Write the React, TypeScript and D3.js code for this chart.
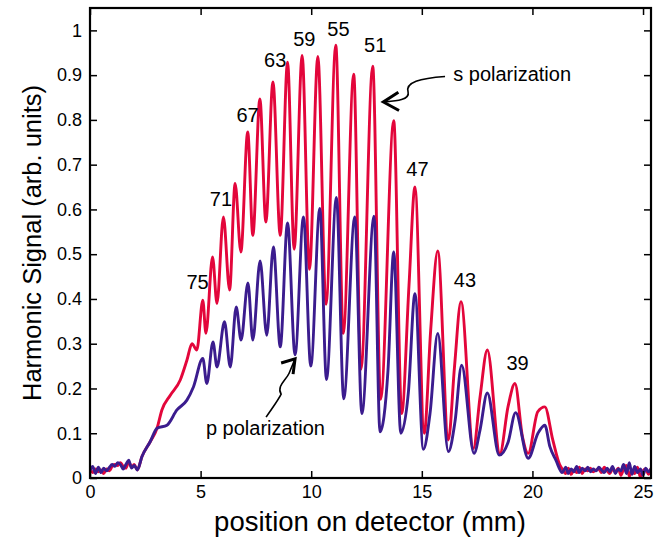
import { useEffect, useRef } from 'react'
import * as d3 from 'd3'

const W = 660, H = 537, M = { top: 8, right: 9, bottom: 59, left: 90 }
const FONT = 'Liberation Sans, Arial, Helvetica, sans-serif'

// s polarization trace: [position (mm), signal]
const sPolarization: [number, number][] = [
  [0, 0.022], [0.12, 0.012], [0.25, 0.02], [0.38, 0.014], [0.5, 0.018], [0.62, 0.01], [0.75, 0.02],
  [0.88, 0.016], [1.0, 0.026], [1.12, 0.03], [1.25, 0.028], [1.38, 0.034], [1.5, 0.026], [1.62, 0.022],
  [1.75, 0.036], [1.88, 0.024], [2.0, 0.03], [2.14, 0.018], [2.35, 0.048], [2.72, 0.081], [3.03, 0.111],
  [3.25, 0.152], [3.63, 0.185], [4.08, 0.219], [4.38, 0.263], [4.61, 0.3], [4.83, 0.286],
  [5.1, 0.397], [5.24, 0.323], [5.54, 0.494], [5.74, 0.39], [6.03, 0.583], [6.31, 0.42],
  [6.56, 0.658], [6.82, 0.505], [7.13, 0.773], [7.36, 0.542], [7.68, 0.847], [7.95, 0.572],
  [8.27, 0.885], [8.6, 0.542], [8.93, 0.929], [9.23, 0.511], [9.59, 0.944], [9.92, 0.466],
  [10.3, 0.942], [10.67, 0.388], [11.11, 0.967], [11.45, 0.323], [11.92, 0.902], [12.25, 0.243],
  [12.78, 0.92], [13.14, 0.176], [13.73, 0.798], [14.09, 0.144], [14.42, 0.43], [14.69, 0.65],
  [15.11, 0.1], [15.4, 0.33], [15.72, 0.507], [16.2, 0.085], [16.48, 0.25], [16.77, 0.394],
  [17.33, 0.066], [17.63, 0.18], [17.96, 0.286], [18.53, 0.055], [18.9, 0.16], [19.21, 0.211],
  [19.55, 0.092], [19.81, 0.055], [20.24, 0.148], [20.56, 0.159], [20.92, 0.085], [21.23, 0.03],
  [21.35, 0.02], [21.5, 0.01], [21.62, 0.022], [21.75, 0.008], [21.88, 0.018], [22.0, 0.012],
  [22.12, 0.024], [22.25, 0.01], [22.38, 0.02], [22.5, 0.016], [22.62, 0.022], [22.75, 0.014],
  [22.88, 0.018], [23.0, 0.02], [23.12, 0.012], [23.25, 0.024], [23.38, 0.016], [23.5, 0.01],
  [23.62, 0.02], [23.75, 0.014], [23.88, 0.022], [24.0, 0.006], [24.12, 0.02], [24.25, 0.028],
  [24.38, 0.004], [24.5, 0.018], [24.62, 0.01], [24.75, 0.024], [24.88, 0.002], [25.0, 0.016],
  [25.12, 0.02], [25.25, 0.008], [25.36, 0.022],
]

// p polarization trace
const pPolarization: [number, number][] = [
  [0, 0.016], [0.12, 0.026], [0.25, 0.01], [0.38, 0.024], [0.5, 0.012], [0.62, 0.022], [0.75, 0.016],
  [0.88, 0.024], [1.0, 0.03], [1.12, 0.026], [1.25, 0.034], [1.38, 0.03], [1.5, 0.02], [1.62, 0.03],
  [1.75, 0.04], [1.88, 0.022], [2.0, 0.028], [2.14, 0.018], [2.35, 0.048], [2.72, 0.081], [3.03, 0.111],
  [3.48, 0.118], [3.93, 0.152], [4.38, 0.174], [4.68, 0.204], [5.1, 0.267], [5.28, 0.211],
  [5.56, 0.304], [5.74, 0.248], [6.08, 0.349], [6.34, 0.248], [6.61, 0.382], [6.83, 0.308],
  [7.14, 0.436], [7.36, 0.308], [7.69, 0.485], [7.99, 0.319], [8.29, 0.516], [8.6, 0.293],
  [8.93, 0.57], [9.27, 0.275], [9.65, 0.583], [9.98, 0.25], [10.39, 0.602], [10.69, 0.22],
  [11.14, 0.627], [11.47, 0.177], [11.97, 0.583], [12.29, 0.144], [12.84, 0.585], [13.11, 0.103],
  [13.47, 0.24], [13.73, 0.505], [14.05, 0.1], [14.39, 0.19], [14.69, 0.412], [15.07, 0.064],
  [15.37, 0.144], [15.72, 0.323], [16.2, 0.059], [16.5, 0.126], [16.8, 0.252], [17.36, 0.055],
  [17.63, 0.107], [17.96, 0.19], [18.5, 0.051], [18.9, 0.08], [19.24, 0.146], [19.81, 0.044],
  [20.25, 0.1], [20.56, 0.118], [20.79, 0.07], [21.06, 0.04], [21.35, 0.012], [21.5, 0.024],
  [21.62, 0.01], [21.75, 0.02], [21.88, 0.014], [22.0, 0.026], [22.12, 0.012], [22.25, 0.022],
  [22.38, 0.016], [22.5, 0.024], [22.62, 0.014], [22.75, 0.02], [22.88, 0.016], [23.0, 0.024],
  [23.12, 0.018], [23.25, 0.012], [23.38, 0.022], [23.5, 0.014], [23.62, 0.026], [23.75, 0.01],
  [23.88, 0.02], [24.0, 0.016], [24.12, 0.03], [24.25, 0.01], [24.38, 0.034], [24.5, 0.008],
  [24.62, 0.026], [24.75, 0.012], [24.88, 0.02], [25.0, 0.006], [25.12, 0.022], [25.25, 0.014],
  [25.36, 0.02],
]

const xTicks = [0, 5, 10, 15, 20, 25]
const yTicks = [0, 0.1, 0.2, 0.3, 0.4, 0.5, 0.6, 0.7, 0.8, 0.9, 1]

// harmonic orders labelled above the peaks: [x (mm), y, order]
const harmonicLabels: [number, number, string][] = [
  [4.86, 0.438, '75'], [5.92, 0.623, '71'], [7.12, 0.81, '67'], [8.37, 0.933, '63'],
  [9.69, 0.981, '59'], [11.23, 1.004, '55'], [12.89, 0.967, '51'], [14.8, 0.691, '47'],
  [16.95, 0.442, '43'], [19.33, 0.257, '39'],
]

export default function App() {
  const svgRef = useRef<SVGSVGElement>(null)

  useEffect(() => {
    const svg = d3.select(svgRef.current!)
    svg.selectAll('*').remove()

    const x = d3.scaleLinear().domain([0, 25.36]).range([M.left, W - M.right])
    const y = d3.scaleLinear().domain([0, 1.05]).range([H - M.bottom, M.top])

    svg.append('clipPath').attr('id', 'plot-clip')
      .append('rect').attr('x', M.left).attr('y', M.top)
      .attr('width', W - M.left - M.right).attr('height', H - M.top - M.bottom)

    const line = d3.line<[number, number]>()
      .x(d => x(d[0])).y(d => y(d[1])).curve(d3.curveMonotoneX)

    const traces = svg.append('g').attr('clip-path', 'url(#plot-clip)')
    traces.append('path').datum(sPolarization)
      .attr('fill', 'none').attr('stroke', '#e3063b').attr('stroke-width', 2.9)
      .attr('stroke-linejoin', 'round').attr('d', line)
    traces.append('path').datum(pPolarization)
      .attr('fill', 'none').attr('stroke', '#3b1c8e').attr('stroke-width', 2.9)
      .attr('stroke-linejoin', 'round').attr('d', line)

    const styleAxis = (ax: d3.Selection<SVGGElement, unknown, null, undefined>) => {
      ax.select('.domain').remove()
      ax.selectAll('.tick line').attr('stroke', '#000').attr('stroke-width', 1.5)
      ax.selectAll<SVGTextElement, unknown>('.tick text')
        .attr('font-size', 18).attr('font-family', FONT).attr('fill', '#000')
    }

    const yb = y(0), yt = y(1.05)
    svg.append('g').attr('transform', `translate(0,${yb})`)
      .call(d3.axisBottom(x).tickValues(xTicks).tickSize(-7).tickPadding(7).tickFormat(d3.format('d')))
      .call(styleAxis)
    svg.append('g').attr('transform', `translate(0,${yt})`)
      .call(d3.axisTop(x).tickValues(xTicks).tickSize(-7).tickFormat(() => ''))
      .call(styleAxis)
    svg.append('g').attr('transform', `translate(${M.left},0)`)
      .call(d3.axisLeft(y).tickValues(yTicks).tickSize(-7).tickPadding(8).tickFormat(d => d3.format('')(+d)))
      .call(styleAxis)
    svg.append('g').attr('transform', `translate(${W - M.right},0)`)
      .call(d3.axisRight(y).tickValues(yTicks).tickSize(-7).tickFormat(() => ''))
      .call(styleAxis)

    svg.append('rect')
      .attr('x', M.left).attr('y', M.top)
      .attr('width', W - M.left - M.right).attr('height', H - M.top - M.bottom)
      .attr('fill', 'none').attr('stroke', '#000').attr('stroke-width', 2.2)

    // harmonic orders
    svg.append('g').selectAll('text').data(harmonicLabels).join('text')
      .attr('x', d => x(d[0])).attr('y', d => y(d[1]))
      .attr('text-anchor', 'middle').attr('dominant-baseline', 'central')
      .attr('font-size', 20).attr('font-family', FONT).attr('fill', '#000')
      .text(d => d[2])

    // polarization annotations
    const note = (mx: number, v: number, label: string) =>
      svg.append('text').attr('x', x(mx)).attr('y', y(v))
        .attr('dominant-baseline', 'central')
        .attr('font-size', 20).attr('font-family', FONT).attr('fill', '#000').text(label)
    note(16.42, 0.903, 's polarization')
    note(5.24, 0.111, 'p polarization')

    const P = (mx: number, v: number) => `${x(mx)},${y(v)}`
    svg.append('path')
      .attr('d', `M${P(16.05, 0.897)} C${P(14.92, 0.893)} ${P(14.24, 0.884)} ${P(14.38, 0.862)} C${P(14.47, 0.844)} ${P(13.79, 0.842)} ${P(13.3, 0.84)}`)
      .attr('fill', 'none').attr('stroke', '#000').attr('stroke-width', 1.6)
    svg.append('path')
      .attr('d', `M${P(13.94, 0.862)} L${P(13.26, 0.84)} L${P(13.97, 0.821)}`)
      .attr('fill', 'none').attr('stroke', '#000').attr('stroke-width', 3)
    svg.append('path')
      .attr('d', `M${P(7.96, 0.136)} C${P(8.23, 0.156)} ${P(8.51, 0.174)} ${P(8.64, 0.1875)} C${P(8.42, 0.205)} ${P(8.87, 0.219)} ${P(9.0, 0.234)} L${P(9.25, 0.264)}`)
      .attr('fill', 'none').attr('stroke', '#000').attr('stroke-width', 1.6)
    svg.append('path')
      .attr('d', `M${P(8.64, 0.257)} L${P(9.27, 0.266)} L${P(9.18, 0.232)}`)
      .attr('fill', 'none').attr('stroke', '#000').attr('stroke-width', 3)

    // axis titles
    svg.append('text')
      .attr('x', 370).attr('y', 521)
      .attr('text-anchor', 'middle').attr('dominant-baseline', 'central')
      .attr('font-size', 27.5).attr('font-family', FONT).attr('fill', '#000')
      .text('position on detector (mm)')
    svg.append('text')
      .attr('transform', `translate(32,${(M.top + H - M.bottom) / 2}) rotate(-90)`)
      .attr('text-anchor', 'middle').attr('dominant-baseline', 'central')
      .attr('font-size', 25.5).attr('font-family', FONT).attr('fill', '#000')
      .text('Harmonic Signal (arb. units)')
  }, [])

  return (
    <svg ref={svgRef} width={W} height={H} viewBox={`0 0 ${W} ${H}`}
      style={{ position: 'absolute', left: 0, top: 0, background: '#fff' }} />
  )
}
